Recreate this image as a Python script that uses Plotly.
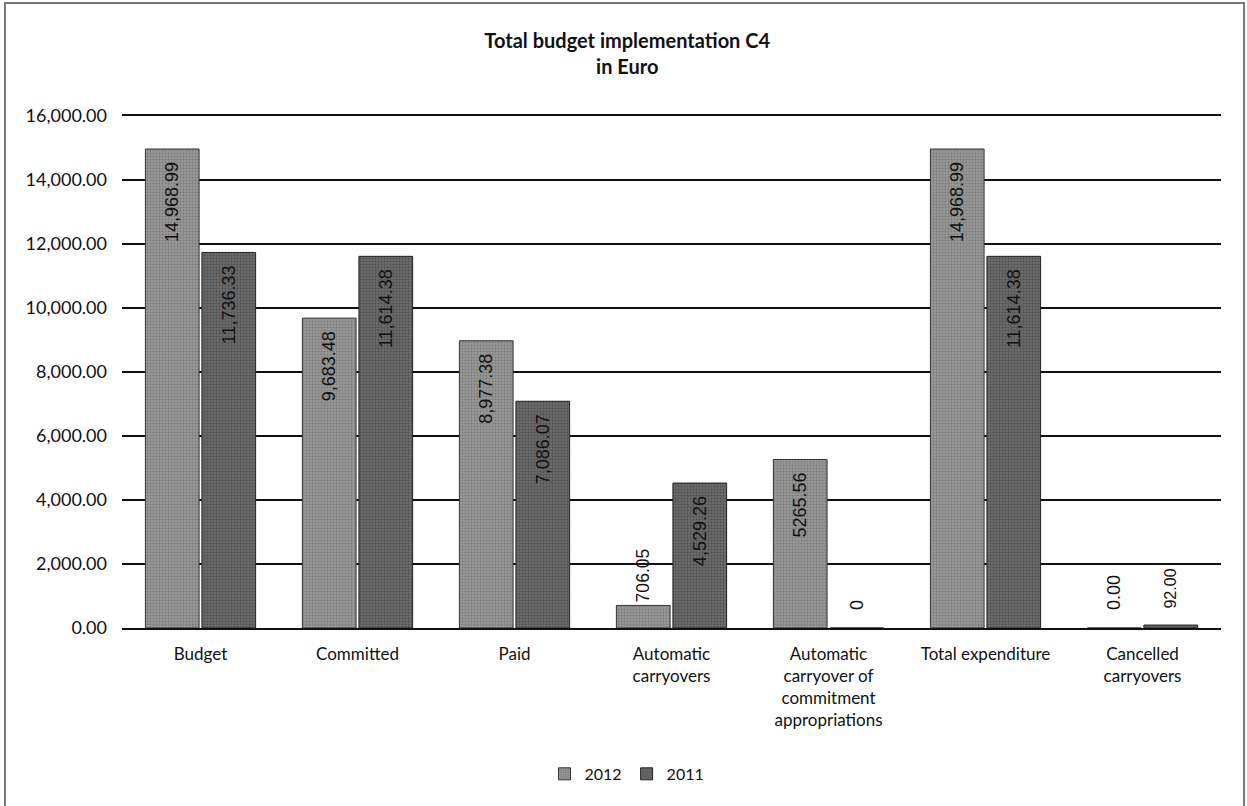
import plotly.graph_objects as go

categories = ["Budget", "Committed", "Paid", "Automatic<br>carryovers",
              "Automatic<br>carryover of<br>commitment<br>appropriations",
              "Total expenditure", "Cancelled<br>carryovers"]
values_2012 = [14968.99, 9683.48, 8977.38, 706.05, 5265.56, 14968.99, 0.00]
values_2011 = [11736.33, 11614.38, 7086.07, 4529.26, 0, 11614.38, 92.00]
labels_2012 = ["14,968.99", "9,683.48", "8,977.38", "706.05", "5265.56", "14,968.99", "0.00"]
labels_2011 = ["11,736.33", "11,614.38", "7,086.07", "4,529.26", "0", "11,614.38", "92.00"]
tick_vals = [0, 2000, 4000, 6000, 8000, 10000, 12000, 14000, 16000]
tick_text = ["0.00", "2,000.00", "4,000.00", "6,000.00", "8,000.00", "10,000.00",
             "12,000.00", "14,000.00", "16,000.00"]

NB = "\u00a0"


def positions(vals):
    return ["inside" if v > 2000 else "outside" for v in vals]


def templates(vals):
    out = []
    for v in vals:
        if v > 2000:
            out.append("%{text}" + NB * 2)      # inside, pushed down from bar end
        elif v < 200:
            out.append(NB * 3 + "%{text}")      # near-zero, lifted above the axis
        else:
            out.append("%{text}")
    return out


fig = go.Figure()
fig.add_trace(go.Bar(
    name="2012", x=categories, y=values_2012, text=labels_2012,
    texttemplate=templates(values_2012),
    textposition=positions(values_2012), textangle=-90, insidetextanchor="end",
    marker=dict(color="#979797", line=dict(color="#333333", width=1),
                pattern=dict(shape=".", fgcolor="#5e5e5e", size=3, solidity=0.3)),
    textfont=dict(family="Liberation Sans, Arial", size=18, color="#111111"),
    cliponaxis=False,
))
fig.add_trace(go.Bar(
    name="2011", x=categories, y=values_2011, text=labels_2011,
    texttemplate=templates(values_2011),
    textposition=positions(values_2011), textangle=-90, insidetextanchor="end",
    marker=dict(color="#6a6a6a", line=dict(color="#222222", width=1),
                pattern=dict(shape=".", fgcolor="#333333", size=3, solidity=0.3)),
    textfont=dict(family="Liberation Sans, Arial", size=18, color="#111111"),
    cliponaxis=False,
))

fig.update_layout(
    width=1247, height=806,
    paper_bgcolor="white", plot_bgcolor="white",
    margin=dict(l=122, r=26, t=116, b=178),
    title=dict(text="<b>Total budget implementation C4<br>in Euro</b>",
               x=0.503, xanchor="center", y=0.94, yanchor="middle",
               font=dict(family="Lato, Liberation Sans", size=20, color="#111111")),
    barmode="group", bargap=0.28, bargroupgap=0.05,
    font=dict(family="Lato, Liberation Sans", size=17, color="#111111"),
    legend=dict(orientation="h", x=0.4595, xanchor="center", y=-0.285, yanchor="middle",
                font=dict(size=16), itemwidth=30),
    shapes=[dict(type="rect", xref="paper", yref="paper",
                 x0=-0.1065, x1=1.021, y0=-0.5, y1=1.2207,
                 line=dict(color="#777777", width=2))],
)
fig.update_yaxes(range=[0, 16000], tickvals=tick_vals, ticktext=tick_text,
                 showgrid=True, gridcolor="#111111", gridwidth=1.5,
                 showline=False, zeroline=False, ticks="", ticklen=0,
                 ticklabelstandoff=14, tickfont=dict(size=18))
fig.update_xaxes(showline=True, mirror=True, linecolor="#111111", linewidth=1.5,
                 ticks="", ticklabelstandoff=10, tickfont=dict(size=17))

fig.write_html("out.html", config={"displayModeBar": False},
               post_script="document.body.style.margin='0px';")
